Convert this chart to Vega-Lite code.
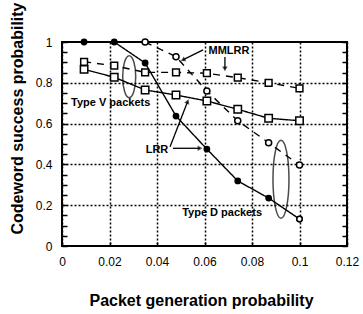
{
  "$schema": "https://vega.github.io/schema/vega-lite/v6.json",
  "width": 285,
  "height": 204,
  "autosize": "none",
  "padding": {"left": 62, "top": 42, "right": 16, "bottom": 68},
  "background": "white",
  "config": {
    "view": {"stroke": "black", "strokeWidth": 2},
    "axis": {"labelFont": "Liberation Sans", "labelFontSize": 12, "labelColor": "black", "titleFont": "Liberation Sans", "titleFontSize": 16, "titleFontWeight": "bold", "titleColor": "black", "domain": false, "labelFlush": false}
  },
  "datasets": {
    "main": [
      {"x": 0.0093, "y": 1.0, "alg": "LRR", "type": "D", "series": "LRR D"},
      {"x": 0.022, "y": 1.0, "alg": "LRR", "type": "D", "series": "LRR D"},
      {"x": 0.035, "y": 0.897, "alg": "LRR", "type": "D", "series": "LRR D"},
      {"x": 0.048, "y": 0.637, "alg": "LRR", "type": "D", "series": "LRR D"},
      {"x": 0.061, "y": 0.475, "alg": "LRR", "type": "D", "series": "LRR D"},
      {"x": 0.074, "y": 0.319, "alg": "LRR", "type": "D", "series": "LRR D"},
      {"x": 0.087, "y": 0.235, "alg": "LRR", "type": "D", "series": "LRR D"},
      {"x": 0.1, "y": 0.132, "alg": "LRR", "type": "D", "series": "LRR D"},
      {"x": 0.035, "y": 1.0, "alg": "MMLRR", "type": "D", "series": "MMLRR D"},
      {"x": 0.048, "y": 0.928, "alg": "MMLRR", "type": "D", "series": "MMLRR D"},
      {"x": 0.061, "y": 0.76, "alg": "MMLRR", "type": "D", "series": "MMLRR D"},
      {"x": 0.074, "y": 0.614, "alg": "MMLRR", "type": "D", "series": "MMLRR D"},
      {"x": 0.087, "y": 0.506, "alg": "MMLRR", "type": "D", "series": "MMLRR D"},
      {"x": 0.1, "y": 0.397, "alg": "MMLRR", "type": "D", "series": "MMLRR D"},
      {"x": 0.0093, "y": 0.903, "alg": "MMLRR", "type": "V", "series": "MMLRR V"},
      {"x": 0.022, "y": 0.884, "alg": "MMLRR", "type": "V", "series": "MMLRR V"},
      {"x": 0.035, "y": 0.851, "alg": "MMLRR", "type": "V", "series": "MMLRR V"},
      {"x": 0.048, "y": 0.851, "alg": "MMLRR", "type": "V", "series": "MMLRR V"},
      {"x": 0.061, "y": 0.847, "alg": "MMLRR", "type": "V", "series": "MMLRR V"},
      {"x": 0.074, "y": 0.825, "alg": "MMLRR", "type": "V", "series": "MMLRR V"},
      {"x": 0.087, "y": 0.8, "alg": "MMLRR", "type": "V", "series": "MMLRR V"},
      {"x": 0.1, "y": 0.773, "alg": "MMLRR", "type": "V", "series": "MMLRR V"},
      {"x": 0.0093, "y": 0.866, "alg": "LRR", "type": "V", "series": "LRR V"},
      {"x": 0.022, "y": 0.827, "alg": "LRR", "type": "V", "series": "LRR V"},
      {"x": 0.035, "y": 0.765, "alg": "LRR", "type": "V", "series": "LRR V"},
      {"x": 0.048, "y": 0.74, "alg": "LRR", "type": "V", "series": "LRR V"},
      {"x": 0.061, "y": 0.711, "alg": "LRR", "type": "V", "series": "LRR V"},
      {"x": 0.074, "y": 0.67, "alg": "LRR", "type": "V", "series": "LRR V"},
      {"x": 0.087, "y": 0.626, "alg": "LRR", "type": "V", "series": "LRR V"},
      {"x": 0.1, "y": 0.614, "alg": "LRR", "type": "V", "series": "LRR V"}
    ],
    "notes": [
      {"x": 0.0703, "y": 0.956, "label": "MMLRR"},
      {"x": 0.040, "y": 0.47, "label": "LRR"},
      {"x": 0.0205, "y": 0.70, "label": "Type V packets"},
      {"x": 0.0674, "y": 0.163, "label": "Type D packets"}
    ],
    "arrows": [
      {"id": "a1", "x": 0.0509, "y": 0.912, "x2": 0.0594, "y2": 0.961},
      {"id": "a2", "x": 0.0686, "y": 0.868, "x2": 0.0686, "y2": 0.926},
      {"id": "a3", "x": 0.0581, "y": 0.479, "x2": 0.0467, "y2": 0.479},
      {"id": "a4", "x": 0.0529, "y": 0.708, "x2": 0.0455, "y2": 0.487}
    ],
    "ellV": [{"x": 0.0283, "y": 0.83}],
    "ellD": [{"x": 0.0922, "y": 0.327}]
  },
  "resolve": {"axis": {"x": "independent", "y": "independent"}},
  "layer": [
    {
      "data": {"name": "main"},
      "mark": {"type": "line", "color": "black", "strokeWidth": 1.4},
      "encoding": {
        "x": {"field": "x", "type": "quantitative", "scale": {"domain": [0, 0.12], "nice": false, "zero": false},
          "axis": {"values": [0, 0.02, 0.04, 0.06, 0.08, 0.1, 0.12], "labelExpr": "format(datum.value, '.2~f')", "grid": true, "gridColor": "black", "gridDash": [2, 2], "gridWidth": 1.5, "tickSize": -4, "tickColor": "black", "tickWidth": 1.5, "labelPadding": 14, "title": "Packet generation probability", "titleX": 139, "titleY": 54, "titleBaseline": "middle"}},
        "y": {"field": "y", "type": "quantitative", "scale": {"domain": [0, 1], "nice": false, "zero": false},
          "axis": {"values": [0, 0.05, 0.1, 0.15, 0.2, 0.25, 0.3, 0.35, 0.4, 0.45, 0.5, 0.55, 0.6, 0.65, 0.7, 0.75, 0.8, 0.85, 0.9, 0.95, 1],
            "labelExpr": "abs(datum.value*5 - round(datum.value*5)) < 0.001 ? format(datum.value, '.1~f') : ''",
            "grid": true, "gridColor": "black", "gridDash": [2, 2], "gridWidth": 1.5,
            "gridOpacity": {"condition": {"test": "abs(datum.value*5 - round(datum.value*5)) < 0.001 && datum.value > 0.01 && datum.value < 0.99", "value": 1}, "value": 0},
            "tickSize": -5, "tickColor": "black", "tickWidth": 1.5, "labelPadding": 15,
            "title": "Codeword success probability", "titleX": -45, "titleY": 76, "titleBaseline": "middle"}},
        "detail": {"field": "series"},
        "strokeDash": {"field": "alg", "type": "nominal", "scale": {"domain": ["LRR", "MMLRR"], "range": [[1, 0], [7, 6]]}, "legend": null}
      }
    },
    {
      "data": {"name": "main"},
      "mark": {"type": "point", "filled": true, "stroke": "black", "strokeWidth": 1.5, "opacity": 1},
      "encoding": {
        "x": {"field": "x", "type": "quantitative", "axis": null},
        "y": {"field": "y", "type": "quantitative",
          "axis": {"orient": "right", "labels": false, "grid": false, "title": null, "values": [0, 0.05, 0.1, 0.15, 0.2, 0.25, 0.3, 0.35, 0.4, 0.45, 0.5, 0.55, 0.6, 0.65, 0.7, 0.75, 0.8, 0.85, 0.9, 0.95, 1], "tickSize": -5, "tickColor": "black", "tickWidth": 1.5}},
        "shape": {"field": "type", "type": "nominal", "scale": {"domain": ["D", "V"], "range": ["circle", "square"]}, "legend": null},
        "fill": {"field": "series", "type": "nominal", "scale": {"domain": ["LRR D", "MMLRR D", "MMLRR V", "LRR V"], "range": ["black", "white", "white", "white"]}, "legend": null},
        "size": {"field": "series", "type": "nominal", "scale": {"domain": ["LRR D", "MMLRR D", "MMLRR V", "LRR V"], "range": [28, 55, 60, 60]}, "legend": null}
      }
    },
    {
      "data": {"name": "main"},
      "transform": [{"filter": "datum.series == 'LRR D' && datum.x > 0.095"}],
      "mark": {"type": "point", "shape": "circle", "filled": true, "fill": "white", "stroke": "black", "strokeWidth": 1.5, "size": 30, "opacity": 1},
      "encoding": {"x": {"field": "x", "type": "quantitative", "axis": null}, "y": {"field": "y", "type": "quantitative", "axis": null}}
    },
    {
      "data": {"name": "arrows"},
      "mark": {"type": "rule", "color": "black", "strokeWidth": 1.3},
      "encoding": {
        "x": {"field": "x", "type": "quantitative", "axis": null},
        "y": {"field": "y", "type": "quantitative", "axis": null},
        "x2": {"field": "x2"},
        "y2": {"field": "y2"}
      }
    },
    {
      "data": {"name": "arrows"},
      "transform": [{"filter": "datum.id == 'a1'"}],
      "mark": {"type": "point", "shape": "triangle-up", "filled": true, "color": "black", "size": 30, "angle": 243},
      "encoding": {"x": {"field": "x", "type": "quantitative", "axis": null}, "y": {"field": "y", "type": "quantitative", "axis": null}}
    },
    {
      "data": {"name": "arrows"},
      "transform": [{"filter": "datum.id == 'a2'"}],
      "mark": {"type": "point", "shape": "triangle-up", "filled": true, "color": "black", "size": 30, "angle": 180},
      "encoding": {"x": {"field": "x", "type": "quantitative", "axis": null}, "y": {"field": "y", "type": "quantitative", "axis": null}}
    },
    {
      "data": {"name": "arrows"},
      "transform": [{"filter": "datum.id == 'a3'"}],
      "mark": {"type": "point", "shape": "triangle-up", "filled": true, "color": "black", "size": 30, "angle": 90},
      "encoding": {"x": {"field": "x", "type": "quantitative", "axis": null}, "y": {"field": "y", "type": "quantitative", "axis": null}}
    },
    {
      "data": {"name": "arrows"},
      "transform": [{"filter": "datum.id == 'a4'"}],
      "mark": {"type": "point", "shape": "triangle-up", "filled": true, "color": "black", "size": 30, "angle": 21},
      "encoding": {"x": {"field": "x", "type": "quantitative", "axis": null}, "y": {"field": "y", "type": "quantitative", "axis": null}}
    },
    {
      "data": {"name": "ellV"},
      "mark": {"type": "point", "shape": "M0,-1A0.31,1,0,1,1,0,1A0.31,1,0,1,1,0,-1Z", "size": 1764, "filled": false, "stroke": "black", "strokeWidth": 1.5},
      "encoding": {"x": {"field": "x", "type": "quantitative", "axis": null}, "y": {"field": "y", "type": "quantitative", "axis": null}}
    },
    {
      "data": {"name": "ellD"},
      "mark": {"type": "point", "shape": "M0,-1A0.205,1,0,1,1,0,1A0.205,1,0,1,1,0,-1Z", "size": 6084, "filled": false, "stroke": "black", "strokeWidth": 1.5},
      "encoding": {"x": {"field": "x", "type": "quantitative", "axis": null}, "y": {"field": "y", "type": "quantitative", "axis": null}}
    },
    {
      "data": {"name": "notes"},
      "mark": {"type": "text", "font": "Liberation Sans", "fontWeight": "bold", "fontSize": 11, "color": "black"},
      "encoding": {
        "x": {"field": "x", "type": "quantitative", "axis": null},
        "y": {"field": "y", "type": "quantitative", "axis": null},
        "text": {"field": "label"}
      }
    }
  ]
}
